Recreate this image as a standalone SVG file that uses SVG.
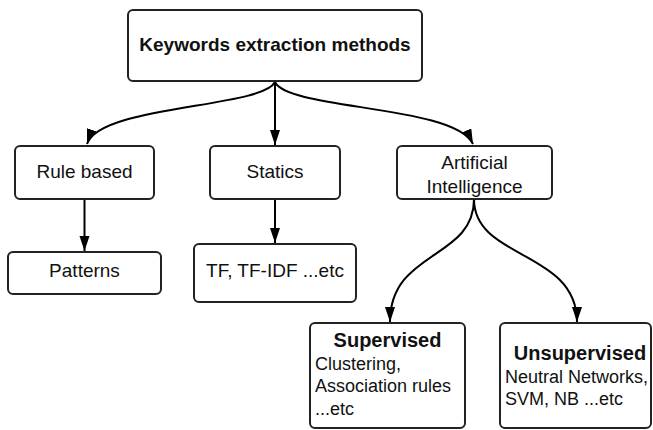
<svg xmlns="http://www.w3.org/2000/svg" width="653" height="430" viewBox="0 0 653 430">
<defs>
<marker id="arr" markerUnits="userSpaceOnUse" markerWidth="16" markerHeight="11" refX="15" refY="5" orient="auto">
<path d="M0,0 L15,5 L0,10 z" fill="#000"/>
</marker>
<style>
.box{fill:#fff;stroke:#222;stroke-width:2}
.t{font-family:"Liberation Sans",Arial,sans-serif;font-size:19px;fill:#111}
.s{font-family:"Liberation Sans",Arial,sans-serif;font-size:18px;fill:#111}
.b{font-weight:bold}
.c{text-anchor:middle}
.edge{fill:none;stroke:#000;stroke-width:2;marker-end:url(#arr)}
</style>
</defs>
<rect width="653" height="430" fill="#fff"/>
<g id="connectors">
<path class="edge" d="M275,82 C262,108 100,105 87,144"/>
<path class="edge" d="M275,82 L275,145"/>
<path class="edge" d="M275,82 C288,110 455,105 473,144"/>
<path class="edge" d="M84.5,199 L84.5,251"/>
<path class="edge" d="M275,199 L275,243"/>
<path class="edge" d="M474,199 C474,260 390,250 390,322"/>
<path class="edge" d="M474,199 C474,260 577,250 577,322"/>
</g>
<g id="root">
<rect class="box" x="128" y="10" width="294" height="71" rx="5"/>
<text class="t b c" x="275" y="51">Keywords extraction methods</text>
</g>
<g id="rule">
<rect class="box" x="15" y="146" width="139" height="53" rx="5"/>
<text class="t c" x="84.5" y="178">Rule based</text>
</g>
<g id="statics">
<rect class="box" x="210" y="146" width="130" height="53" rx="5"/>
<text class="t c" x="275" y="178">Statics</text>
</g>
<g id="ai">
<rect class="box" x="397" y="146" width="155" height="53" rx="5"/>
<text class="t c" x="474.5" y="169">Artificial</text>
<text class="t c" x="474.5" y="192.5">Intelligence</text>
</g>
<g id="patterns">
<rect class="box" x="8" y="252" width="153" height="42" rx="5"/>
<text class="t c" x="84.5" y="277">Patterns</text>
</g>
<g id="tf">
<rect class="box" x="194" y="244" width="162" height="58" rx="5"/>
<text class="t c" x="275" y="277">TF, TF-IDF ...etc</text>
</g>
<g id="supervised">
<rect class="box" x="310" y="323" width="155" height="105" rx="5"/>
<text class="s b c" x="387.5" y="347" style="font-size:20px">Supervised</text>
<text class="s" x="315" y="370">Clustering,</text>
<text class="s" x="315" y="392">Association rules</text>
<text class="s" x="315" y="414.5">...etc</text>
</g>
<g id="unsupervised">
<rect class="box" x="500" y="323" width="151" height="105" rx="5"/>
<text class="s b c" x="580" y="360" style="font-size:20px">Unsupervised</text>
<text class="s" x="505" y="383">Neutral Networks,</text>
<text class="s" x="505" y="405">SVM, NB ...etc</text>
</g>
</svg>
